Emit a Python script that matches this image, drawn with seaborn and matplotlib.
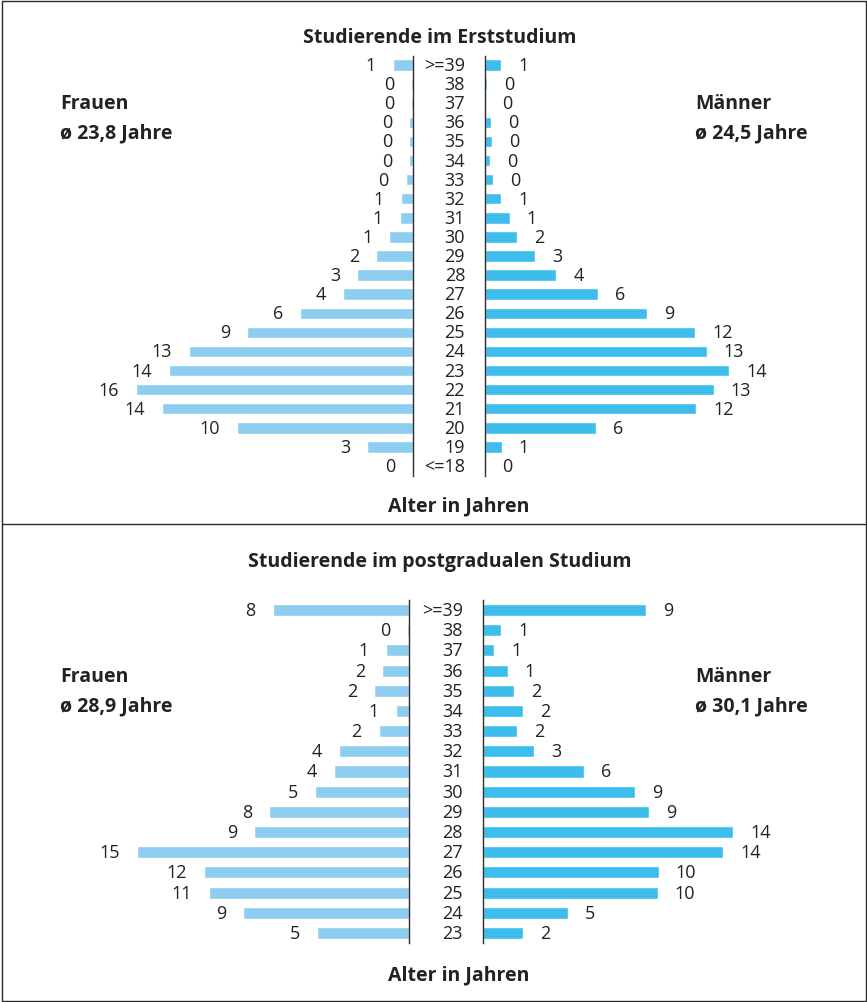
import matplotlib
matplotlib.use("Agg")
import matplotlib.pyplot as plt
import seaborn as sns
import pandas as pd
from matplotlib.lines import Line2D

# --- Daten (Anteile in %, Balkenlänge geschätzt; Beschriftung gerundet) ---
alter_erst = [">=39", "38", "37", "36", "35", "34", "33", "32", "31", "30", "29",
              "28", "27", "26", "25", "24", "23", "22", "21", "20", "19", "<=18"]
frauen_erst = [1.17, 0.13, 0.13, 0.24, 0.24, 0.25, 0.43, 0.70, 0.77, 1.36, 2.10,
               3.18, 3.98, 6.42, 9.45, 12.76, 13.86, 15.74, 14.26, 10.00, 2.61, 0.07]
frauen_erst_lbl = [1, 0, 0, 0, 0, 0, 0, 1, 1, 1, 2, 3, 4, 6, 9, 13, 14, 16, 14, 10, 3, 0]
maenner_erst = [0.91, 0.13, 0.0, 0.36, 0.40, 0.28, 0.44, 0.93, 1.40, 1.80, 2.84,
                4.05, 6.42, 9.20, 11.93, 12.60, 13.86, 13.00, 11.99, 6.30, 0.95, 0.0]
maenner_erst_lbl = [1, 0, 0, 0, 0, 0, 0, 1, 1, 2, 3, 4, 6, 9, 12, 13, 14, 13, 12, 6, 1, 0]

alter_post = [">=39", "38", "37", "36", "35", "34", "33", "32", "31", "30", "29",
              "28", "27", "26", "25", "24", "23"]
frauen_post = [7.76, 0.13, 1.34, 1.55, 2.00, 0.76, 1.74, 4.01, 4.28, 5.36, 7.95,
               8.82, 15.47, 11.68, 11.36, 9.45, 5.24]
frauen_post_lbl = [8, 0, 1, 2, 2, 1, 2, 4, 4, 5, 8, 9, 15, 12, 11, 9, 5]
maenner_post = [9.26, 1.04, 0.64, 1.42, 1.80, 2.29, 1.97, 2.93, 5.74, 8.67, 9.45,
                14.24, 13.65, 10.00, 9.94, 4.85, 2.29]
maenner_post_lbl = [9, 1, 1, 1, 2, 2, 2, 3, 6, 9, 9, 14, 14, 10, 10, 5, 2]

FARBE_F = "#8dcef0"
FARBE_M = "#3dbdec"
LINIE = "#2b2b2b"
TEXT = "#222222"

W, H = 867, 1003
PX_PRO_PROZENT = 17.6
FS_ZAHL = 13
FS_FETT = 14

sns.set_style("white")
plt.rcParams["font.family"] = ["Open Sans", "DejaVu Sans"]

fig = plt.figure(figsize=(W / 100, H / 100), dpi=100)


def px_rect(x0, y0, x1, y1):
    # Pixel (von oben links) -> Figurenkoordinaten
    return [x0 / W, 1 - y1 / H, (x1 - x0) / W, (y1 - y0) / H]


def fig_text(x, y, s, **kw):
    fig.text(x / W, 1 - y / H, s, color=TEXT, **kw)


def pyramide(alter, frauen, f_lbl, maenner, m_lbl, y_oben, y_unten, x_links, x_rechts):
    n = len(alter)
    ax_f = fig.add_axes(px_rect(60, y_oben, x_links, y_unten))
    ax_m = fig.add_axes(px_rect(x_rechts, y_oben, 850, y_unten))

    df_f = pd.DataFrame({"alter": alter, "wert": frauen})
    df_m = pd.DataFrame({"alter": alter, "wert": maenner})
    sns.barplot(data=df_f, x="wert", y="alter", orient="h", color=FARBE_F,
                width=0.6, saturation=1, ax=ax_f)
    sns.barplot(data=df_m, x="wert", y="alter", orient="h", color=FARBE_M,
                width=0.6, saturation=1, ax=ax_m)

    ax_f.set_xlim((x_links - 60) / PX_PRO_PROZENT, 0)
    ax_m.set_xlim(0, (850 - x_rechts) / PX_PRO_PROZENT)
    for ax in (ax_f, ax_m):
        ax.set_ylim(n - 0.5, -0.5)
        ax.set_xlabel("")
        ax.set_ylabel("")
        ax.set_xticks([])
        ax.set_yticks([])
        ax.patch.set_alpha(0)
        for sp in ax.spines.values():
            sp.set_visible(False)
    ax_f.spines["right"].set_visible(True)
    ax_m.spines["left"].set_visible(True)
    ax_f.spines["right"].set_color(LINIE)
    ax_m.spines["left"].set_color(LINIE)
    ax_f.spines["right"].set_linewidth(1.0)
    ax_m.spines["left"].set_linewidth(1.0)

    for i in range(n):
        ax_f.annotate(str(f_lbl[i]), xy=(frauen[i], i), xytext=(-17, 0),
                      textcoords="offset pixels", ha="right", va="center",
                      fontsize=FS_ZAHL, color=TEXT)
        ax_m.annotate(str(m_lbl[i]), xy=(maenner[i], i), xytext=(17, 0),
                      textcoords="offset pixels", ha="left", va="center",
                      fontsize=FS_ZAHL, color=TEXT)
        ax_m.annotate(alter[i], xy=(0, i), xytext=(-20, 0),
                      textcoords="offset pixels", ha="right", va="center",
                      fontsize=FS_ZAHL, color=TEXT)


pyramide(alter_erst, frauen_erst, frauen_erst_lbl, maenner_erst, maenner_erst_lbl,
         56.5, 476.5, 413.3, 485)
pyramide(alter_post, frauen_post, frauen_post_lbl, maenner_post, maenner_post_lbl,
         601, 944, 409.3, 482.7)

# Titel und Beschriftungen
fett = dict(fontsize=FS_FETT, fontweight="bold", va="center")
fig_text(439.5, 38, "Studierende im Erststudium", ha="center", **fett)
fig_text(459, 506, "Alter in Jahren", ha="center", **fett)
fig_text(60, 104, "Frauen", ha="left", **fett)
fig_text(60, 133, "ø 23,8 Jahre", ha="left", **fett)
fig_text(695, 104, "Männer", ha="left", **fett)
fig_text(695, 133, "ø 24,5 Jahre", ha="left", **fett)

fig_text(439.5, 562, "Studierende im postgradualen Studium", ha="center", **fett)
fig_text(459, 975, "Alter in Jahren", ha="center", **fett)
fig_text(60, 677, "Frauen", ha="left", **fett)
fig_text(60, 706, "ø 28,9 Jahre", ha="left", **fett)
fig_text(695, 677, "Männer", ha="left", **fett)
fig_text(695, 706, "ø 30,1 Jahre", ha="left", **fett)

# Rahmen
for (x0, y0, x1, y1) in [(1.5, 1.5, 865.5, 1.5), (1.5, 1001.5, 865.5, 1001.5),
                         (1.5, 1.5, 1.5, 1001.5), (865.5, 1.5, 865.5, 1001.5),
                         (1.5, 524.5, 865.5, 524.5)]:
    fig.add_artist(Line2D([x0 / W, x1 / W], [1 - y0 / H, 1 - y1 / H],
                          transform=fig.transFigure, color=LINIE, linewidth=1.0))

fig.savefig("out.png", dpi=100)
